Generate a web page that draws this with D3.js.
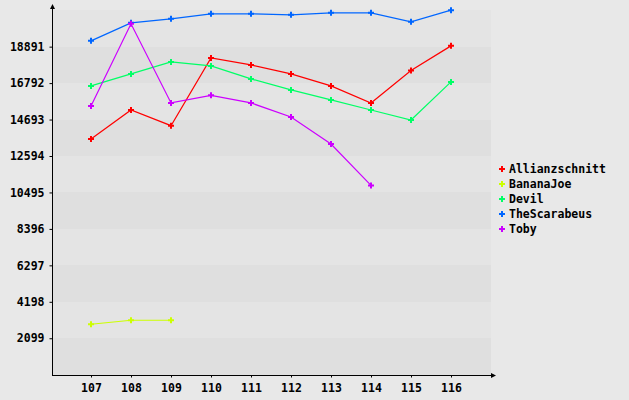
<!DOCTYPE html>
<html><head><meta charset="utf-8">
<script src="https://cdn.jsdelivr.net/npm/d3@7"></script>
<style>
html,body{margin:0;padding:0;background:#e8e8e8;}
svg{display:block;}
text{font-family:"DejaVu Sans Mono",monospace;font-weight:bold;font-size:11.5px;fill:#000;}
</style></head>
<body>
<script>
const categories = ["107","108","109","110","111","112","113","114","115","116"];
const seriesNames = ["Allianzschnitt","BananaJoe","Devil","TheScarabeus","Toby"];
const seriesColors = ["#ff0000","#ccff00","#00ff66","#0066ff","#cc00ff"];
const allianzschnitt = [13573,15245,14340,18244,17840,17321,16629,15649,17511,18936];
const bananaJoe = [2906,3137,3137,null,null,null,null,null,null,null];
const devil = [16629,17321,18013,17782,17033,16399,15822,15245,14669,16860];
const theScarabeus = [19224,20262,20492,20781,20781,20723,20838,20838,20320,20990];
const toby = [15476,20204,15649,16087,15649,14842,13285,10899,null,null];
const yTicks = [2099,4198,6297,8396,10495,12594,14693,16792,18891];
const yMax = 20990;
const bandStep = 2099;

const allSeries = [allianzschnitt, bananaJoe, devil, theScarabeus, toby];
const W = 629, H = 400;
const svg = d3.select("body").append("svg").attr("width", W).attr("height", H);
svg.append("rect").attr("width", W).attr("height", H).attr("fill", "#e8e8e8");

const x = d3.scalePoint().domain(categories).range([91, 451]);
const y = d3.scaleLinear().domain([0, yMax]).range([374.7, 10.2]);
const plotLeft = 52, plotRight = 491;

// bands
const bands = d3.range(0, yMax, bandStep);
svg.append("g").selectAll("rect").data(bands).join("rect")
  .attr("x", plotLeft + 1).attr("width", plotRight - plotLeft - 1)
  .attr("y", d => Math.round(y(d + bandStep)))
  .attr("height", d => Math.round(y(d)) - Math.round(y(d + bandStep)))
  .attr("fill", (d, i) => i % 2 === 0 ? "#dfdfdf" : "#e4e4e4");

// lines
const line = d3.line().defined(d => d.v != null).x(d => x(d.c)).y(d => y(d.v));
allSeries.forEach((s, si) => {
  const pts = s.map((v, i) => ({c: categories[i], v}));
  svg.append("path").attr("d", line(pts)).attr("fill", "none")
    .attr("stroke", seriesColors[si]).attr("stroke-width", 1.2);
  svg.append("g").selectAll("path").data(pts.filter(p => p.v != null)).join("path")
    .attr("transform", p => `translate(${x(p.c)},${y(p.v)})`)
    .attr("d", d3.symbol(d3.symbolCross, 20))
    .attr("fill", seriesColors[si]);
});

// y axis
const yAxis = svg.append("g").attr("transform", `translate(${plotLeft + 0.5},0)`)
  .call(d3.axisLeft(y).tickValues(yTicks).tickSize(3).tickPadding(5).tickFormat(d3.format("d")));
yAxis.select(".domain").remove();
yAxis.selectAll("text").style("font-family", "DejaVu Sans Mono").style("font-size", "11.5px").style("font-weight", "bold");
svg.append("line").attr("x1", plotLeft + 0.5).attr("x2", plotLeft + 0.5).attr("y1", 6).attr("y2", 375.5)
  .attr("stroke", "#000").attr("shape-rendering", "crispEdges");
svg.append("path").attr("d", `M${plotLeft + 0.5},4 L${plotLeft - 2},9 L${plotLeft + 3},9 Z`).attr("fill", "#000");

// x axis
const xAxis = svg.append("g").attr("transform", `translate(0,375.5)`)
  .call(d3.axisBottom(x).tickSize(2).tickPadding(6));
xAxis.select(".domain").remove();
xAxis.selectAll("text").style("font-family", "DejaVu Sans Mono").style("font-size", "11.5px").style("font-weight", "bold");
svg.append("line").attr("x1", plotLeft).attr("x2", 494).attr("y1", 375.5).attr("y2", 375.5)
  .attr("stroke", "#000").attr("shape-rendering", "crispEdges");
svg.append("path").attr("d", `M496,375.5 L491,373 L491,378 Z`).attr("fill", "#000");

// legend
const lg = svg.append("g").selectAll("g").data(seriesNames).join("g")
  .attr("transform", (d, i) => `translate(502,${169 + i * 15})`);
lg.append("path").attr("d", d3.symbol(d3.symbolCross, 20)).attr("fill", (d, i) => seriesColors[i]);
lg.append("text").attr("x", 7).attr("dy", "0.35em").text(d => d);
</script>
</body></html>
